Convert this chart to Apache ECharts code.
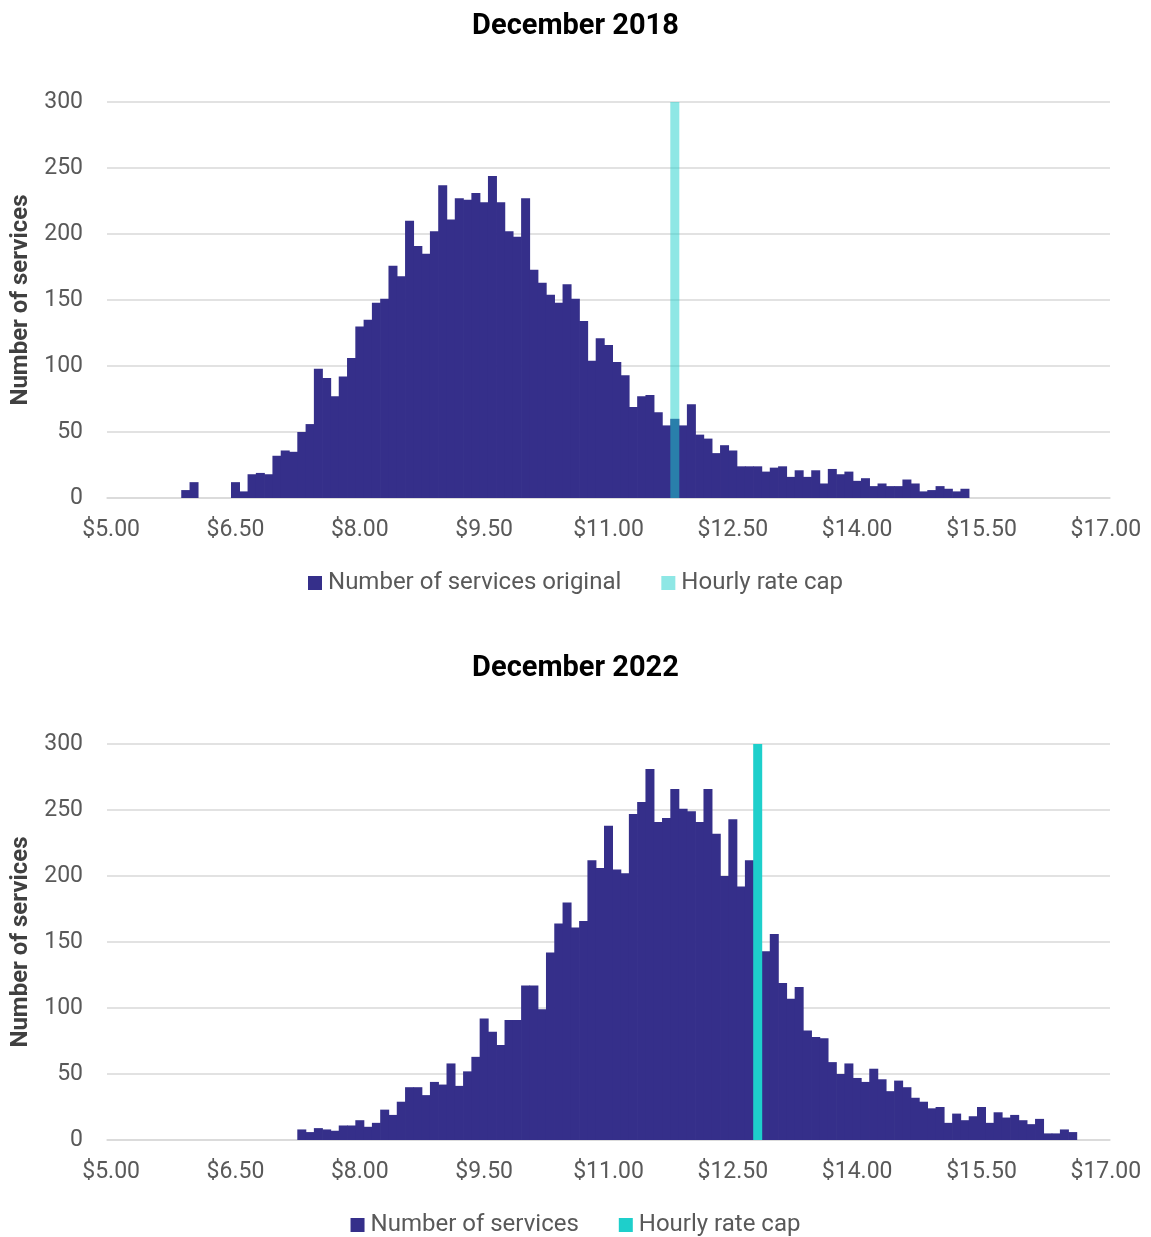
<!DOCTYPE html>
<html>
<head>
<meta charset="utf-8">
<script src="https://cdn.jsdelivr.net/npm/echarts@6/dist/echarts.min.js"></script>
<style>
  html, body { margin: 0; padding: 0; background: #ffffff; }
  #c1 { width: 1151px; height: 642px; }
  #c2 { width: 1151px; height: 595px; }
</style>
</head>
<body>
<div id="c1"></div>
<div id="c2"></div>
<script>
// Bin prices (category axis): $5.00 to $17.00 in $0.10 steps
const axisMin = 5.0;
const axisMax = 17.0;
const binStep = 0.1;
const yTicks = [0, 50, 100, 150, 200, 250, 300];

// December 2018: counts starting at bin $5.90
const start2018 = 5.9;
const counts2018 = [
  6, 12, null, null, null, null, 12, 5, 18, 19, 18, 32, 36, 35, 50, 56, 98, 91, 77, 92,
  106, 130, 135, 148, 151, 176, 168, 210, 191, 185, 202, 237, 211, 227, 226, 231, 224, 244, 224, 202,
  198, 227, 173, 163, 154, 148, 162, 151, 134, 104, 121, 116, 103, 93, 69, 77, 78, 65, 55, 60,
  55, 71, 48, 45, 34, 40, 36, 24, 24, 24, 20, 23, 24, 16, 21, 16, 21, 11, 22, 18,
  20, 13, 15, 9, 11, 9, 9, 14, 11, 5, 6, 9, 7, 5, 7
];
const cap2018 = 11.8;

// December 2022: counts starting at bin $7.30
const start2022 = 7.3;
const counts2022 = [
  8, 6, 9, 8, 7, 11, 11, 15, 10, 13, 23, 19, 29, 40, 40, 34, 44, 42, 58, 41,
  52, 63, 92, 82, 72, 91, 91, 117, 117, 99, 142, 164, 180, 161, 166, 212, 206, 238, 205, 202,
  247, 256, 281, 241, 244, 266, 251, 249, 241, 266, 232, 200, 243, 192, 212, null, 143, 156, 119, 107,
  116, 83, 78, 77, 59, 50, 58, 47, 44, 54, 46, 37, 45, 40, 32, 29, 24, 25, 13, 20,
  15, 18, 25, 13, 21, 17, 19, 15, 12, 16, 5, 5, 8, 6
];
const cap2022 = 12.8;
const capValue = 300;

const nBins = Math.round((axisMax - axisMin) / binStep) + 1;
const categories = [];
for (let i = 0; i < nBins; i++) categories.push('$' + (axisMin + i * binStep).toFixed(2));

function placeCounts(start, counts) {
  const arr = new Array(nBins).fill(null);
  const off = Math.round((start - axisMin) / binStep);
  counts.forEach((v, i) => { arr[off + i] = v; });
  return arr;
}
function placeCap(price) {
  const arr = new Array(nBins).fill(null);
  arr[Math.round((price - axisMin) / binStep)] = capValue;
  return arr;
}

const FONT = 'Roboto, "Noto Sans", sans-serif';

function makeOption(title, barName, barData, capData, capColor) {
  return {
    animation: false,
    textStyle: { fontFamily: FONT },
    title: {
      text: title, left: 'center', top: 7,
      textStyle: { fontFamily: FONT, fontSize: 29, fontWeight: 'bold', color: '#000000' }
    },
    legend: {
      top: 566, left: 'center',
      itemWidth: 14, itemHeight: 14, itemGap: 40,
      icon: 'rect',
      textStyle: { fontFamily: FONT, fontSize: 24, color: '#595959', padding: [0, 0, 0, 1] },
      data: [barName, 'Hourly rate cap']
    },
    grid: { left: 107, right: 41, top: 102, height: 396, containLabel: false, outerBoundsMode: 'none' },
    xAxis: {
      type: 'category',
      data: categories,
      boundaryGap: true,
      axisLine: { show: true, lineStyle: { color: '#d9d9d9', width: 1.5 } },
      axisTick: { show: false },
      axisLabel: {
        interval: 14, margin: 21,
        fontFamily: FONT, fontSize: 23, color: '#595959'
      },
      splitLine: { show: false }
    },
    yAxis: {
      type: 'value', min: yTicks[0], max: yTicks[yTicks.length - 1], interval: yTicks[1] - yTicks[0],
      name: 'Number of services',
      nameLocation: 'middle', nameRotate: 90, nameGap: 74,
      nameTextStyle: { fontFamily: FONT, fontSize: 24, fontWeight: 'bold', color: '#404040' },
      axisLine: { show: false }, axisTick: { show: false },
      axisLabel: { margin: 24, fontFamily: FONT, fontSize: 23, color: '#595959' },
      splitLine: { lineStyle: { color: '#d9d9d9', width: 1.5 } }
    },
    series: [
      {
        name: barName, type: 'bar', data: barData,
        barGap: '-100%', barWidth: 9,
        itemStyle: { color: '#352F8A' },
        z: 2
      },
      {
        name: 'Hourly rate cap', type: 'bar', data: capData,
        barGap: '-100%', barWidth: 9,
        itemStyle: { color: capColor },
        z: 3
      }
    ]
  };
}

const chart1 = echarts.init(document.getElementById('c1'), null, { renderer: 'canvas' });
chart1.setOption(makeOption('December 2018', 'Number of services original',
  placeCounts(start2018, counts2018), placeCap(cap2018), 'rgba(30,207,203,0.5)'));

const chart2 = echarts.init(document.getElementById('c2'), null, { renderer: 'canvas' });
chart2.setOption(makeOption('December 2022', 'Number of services',
  placeCounts(start2022, counts2022), placeCap(cap2022), '#1ECFCB'));
</script>
</body>
</html>
